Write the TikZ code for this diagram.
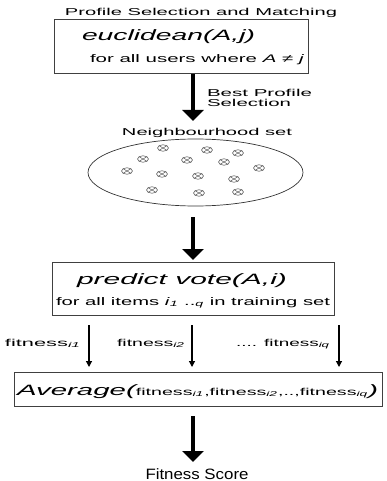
\documentclass[tikz,border=0pt]{standalone}
\usepackage{fontspec}
\setmainfont{Liberation Sans}
\usetikzlibrary{arrows.meta,shapes.geometric}
% set #3 at #2pt and stretch it horizontally to a width of #1pt
\newcommand{\wideto}[3]{\resizebox{#1pt}{\height}{\fontsize{#2}{#2}\selectfont #3}}
\newcommand{\fsub}[1]{\textsubscript{\itshape #1}}

\begin{document}
\begin{tikzpicture}[x=1pt,y=-1pt,
  txt/.style={inner sep=0pt, outer sep=0pt, anchor=base},
  txtl/.style={inner sep=0pt, outer sep=0pt, anchor=base west},
  txtr/.style={inner sep=0pt, outer sep=0pt, anchor=base east},
  frame/.style={draw=black!75, line width=0.9pt, inner sep=0pt},
  bigarrow/.style={line width=3.6pt, -{Triangle[width=21pt,length=11pt]}},
  thinarrow/.style={line width=1.2pt, -{Triangle[width=6pt,length=6pt]}},
  member/.style={draw=black!65, line width=0.55pt, ellipse, inner sep=0pt,
    minimum width=11pt, minimum height=6.5pt,
    path picture={\draw[black!65, line width=0.5pt]
      (path picture bounding box.south west) -- (path picture bounding box.north east)
      (path picture bounding box.north west) -- (path picture bounding box.south east);}}
]
\useasboundingbox (0,0) rectangle (386,481);

% --- profile selection stage
\node[txt] (title) at (201,16) {\wideto{272}{10}{Profile Selection and Matching}};
\node[frame, minimum width=254pt, minimum height=54pt] (box1) at (181,46) {};
\node[txtl] (eucl) at (82,41) {\wideto{173}{15}{\itshape euclidean(A,j)}};
\node[txtl] (users) at (90,63) {\wideto{214}{11}{for all users where \textit{A} ≠ \textit{j}}};

\coordinate (a1s) at (193,74);
\coordinate (a1e) at (193,121);
\draw[bigarrow] (a1s) -- (a1e);
\node[txtl] (best) at (207,97) {\wideto{105}{10}{Best Profile}};
\node[txtl] (sel) at (207,107) {\wideto{84}{10}{Selection}};

% --- neighbourhood
\node[txt] (nbtitle) at (207,136) {\wideto{170}{10}{Neighbourhood set}};
\node[draw=black!80, line width=0.7pt, ellipse, minimum width=215pt, minimum height=67pt, inner sep=0pt] (nbhd) at (195.5,172.5) {};
\foreach \px/\py [count=\k] in {163/148, 207/150, 238/153, 143/159, 187/160, 224/162, 259/168,
    127/171, 162/174, 198/176, 234/179, 152/190, 199/193, 238/192}
  \node[member] (m\k) at (\px,\py) {};

\coordinate (a2s) at (193,217);
\coordinate (a2e) at (193,260);
\draw[bigarrow] (a2s) -- (a2e);

% --- prediction stage
\node[frame, minimum width=282pt, minimum height=53pt] (box2) at (193,288.5) {};
\node[txtl] (pred) at (77,284) {\wideto{210}{15}{\itshape predict vote(A,i)}};
\node[txtl] (items) at (56,305) {\wideto{274}{11}{for all items \textit{i}\fsub{1} ..\fsub{q} in training set}};

\coordinate (f1s) at (89,325);
\coordinate (f1e) at (89,367);
\coordinate (f2s) at (192,325);
\coordinate (f2e) at (192,367);
\coordinate (f3s) at (339,325);
\coordinate (f3e) at (339,367);
\draw[thinarrow] (f1s) -- (f1e);
\draw[thinarrow] (f2s) -- (f2e);
\draw[thinarrow] (f3s) -- (f3e);
\node[txtr] (fit1) at (81,346) {\wideto{76}{10}{fitness\fsub{i1}}};
\node[txtl] (fit2) at (117,346) {\wideto{68}{10}{fitness\fsub{i2}}};
\node[txtl] (fit3) at (236,346) {\wideto{94}{10}{.... fitness\fsub{iq}}};

% --- averaging
\node[frame, minimum width=368pt, minimum height=34pt] (box3) at (198,389) {};
\node[txtl] (avg) at (17,395) {\wideto{361}{15}{\itshape Average(\upshape\fontsize{10}{10}\selectfont fitness\fsub{i1},fitness\fsub{i2},..,fitness\fsub{iq}\fontsize{15}{15}\selectfont\itshape)}};

\coordinate (a3s) at (193,416);
\coordinate (a3e) at (193,462);
\draw[bigarrow] (a3s) -- (a3e);
\node[txt] (score) at (197,479) {\wideto{103}{15}{Fitness Score}};
\end{tikzpicture}
\end{document}
